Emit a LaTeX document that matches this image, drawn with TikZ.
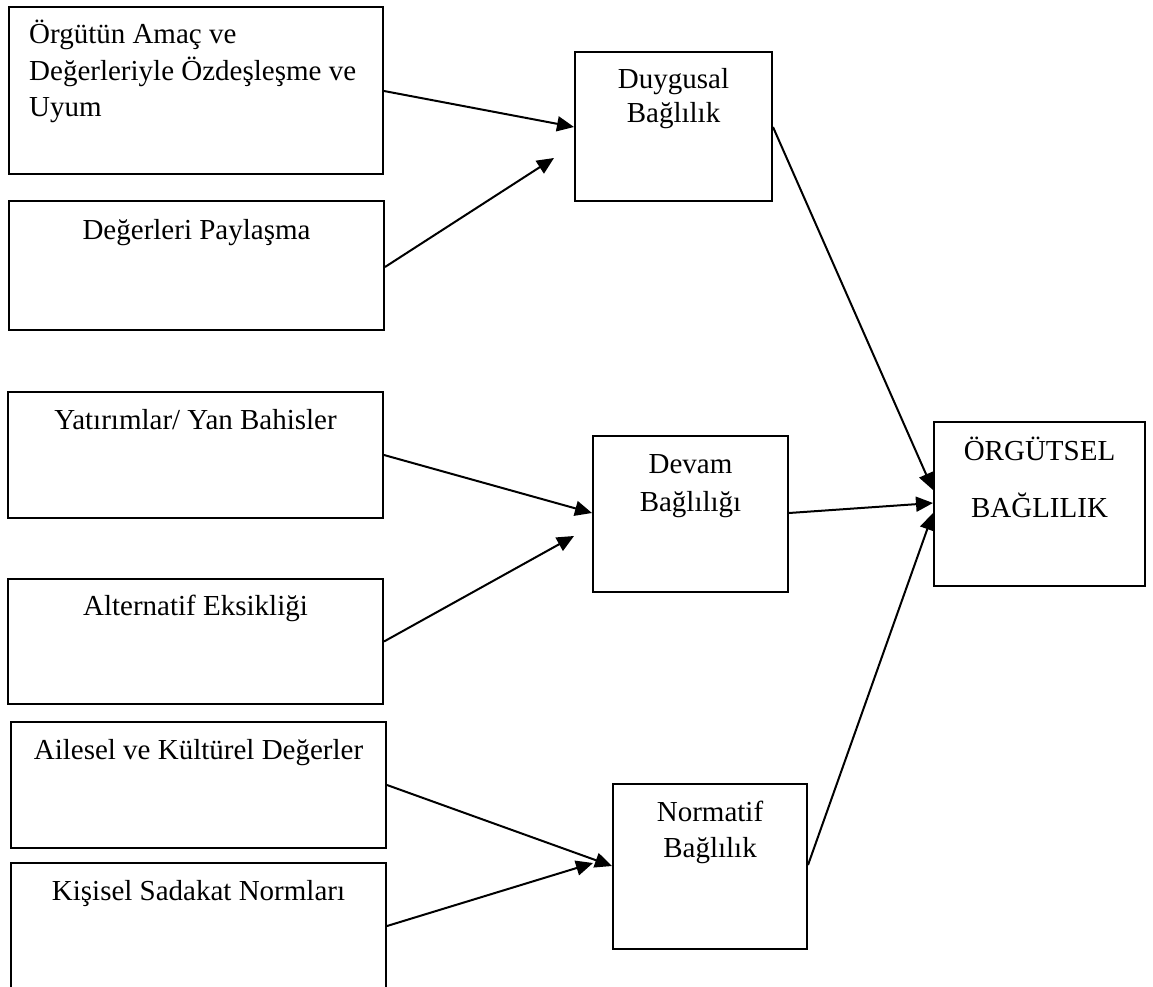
\documentclass[tikz,border=0pt]{standalone}
\usepackage{fontspec}
\setmainfont{Liberation Serif}
\usetikzlibrary{arrows.meta}
\begin{document}
\begin{tikzpicture}[x=1pt,y=-1pt,
  box/.style={draw,line width=2pt,inner sep=0pt,rectangle},
  txt/.style={anchor=base,inner sep=0pt,font=\fontsize{29}{35}\selectfont},
  arr/.style={line width=2pt,-{Triangle[length=17pt,width=15pt]}}]
\clip (0,0) rectangle (1153,987);
\fill[white] (0,0) rectangle (1153,987);
% boxes
\node[box,minimum width=374pt,minimum height=167pt] (b1) at (196,90.5) {};
\node[box,minimum width=375pt,minimum height=129pt] (b2) at (196.5,265.5) {};
\node[box,minimum width=375pt,minimum height=126pt] (b3) at (195.5,455) {};
\node[box,minimum width=375pt,minimum height=125pt] (b4) at (195.5,641.5) {};
\node[box,minimum width=375pt,minimum height=126pt] (b5) at (198.5,785) {};
\node[box,minimum width=375pt,minimum height=132pt] (b6) at (198.5,929) {};
\node[box,minimum width=197pt,minimum height=149pt] (duy) at (673.5,126.5) {};
\node[box,minimum width=195pt,minimum height=156pt] (dev) at (690.5,514) {};
\node[box,minimum width=194pt,minimum height=165pt] (nor) at (710,866.5) {};
\node[box,minimum width=211pt,minimum height=164pt] (org) at (1039.5,504) {};
% texts
\node[txt,anchor=base west] (t1a) at (29,44) {Örgütün Amaç ve};
\node[txt,anchor=base west] (t1b) at (29,81) {Değerleriyle Özdeşleşme ve};
\node[txt,anchor=base west] (t1c) at (29,117) {Uyum};
\node[txt] (t2) at (196.5,239) {Değerleri Paylaşma};
\node[txt] (t3) at (195.5,429) {Yatırımlar/ Yan Bahisler};
\node[txt] (t4) at (195.5,615) {Alternatif Eksikliği};
\node[txt] (t5) at (198.5,759) {Ailesel ve Kültürel Değerler};
\node[txt] (t6) at (198.5,900) {Kişisel Sadakat Normları};
\node[txt] (tduy1) at (673.5,89) {Duygusal};
\node[txt] (tduy2) at (673.5,123) {Bağlılık};
\node[txt] (tdev1) at (690.5,473) {Devam};
\node[txt] (tdev2) at (690.5,511) {Bağlılığı};
\node[txt] (tnor1) at (710,821) {Normatif};
\node[txt] (tnor2) at (710,857) {Bağlılık};
\node[txt] (torg1) at (1039.5,460) {ÖRGÜTSEL};
\node[txt] (torg2) at (1039.5,517) {BAĞLILIK};
% connectors
\draw[arr] ([yshift=-0.5pt]b1.east) -- ([yshift=-0.5pt]duy.west);
\draw[arr] ([yshift=-1.5pt]b2.east) -- ([xshift=-20pt,yshift=-31.5pt]duy.west);
\draw[arr] (b3.east) -- ([yshift=1pt]dev.west);
\draw[arr] (b4.east) -- ([xshift=-18pt,yshift=-22pt]dev.west);
\draw[arr] (b5.east) -- ([yshift=0.5pt]nor.west);
\draw[arr] ([yshift=3pt]b6.east) -- ([xshift=-19pt,yshift=3.5pt]nor.west);
\draw[arr] ([yshift=-0.5pt]duy.east) -- ([yshift=14pt]org.west);
\draw[arr] ([yshift=1pt]dev.east) -- ([yshift=1pt]org.west);
\draw[arr] ([yshift=1.5pt]nor.east) -- ([yshift=-9pt]org.west);
\end{tikzpicture}
\end{document}
